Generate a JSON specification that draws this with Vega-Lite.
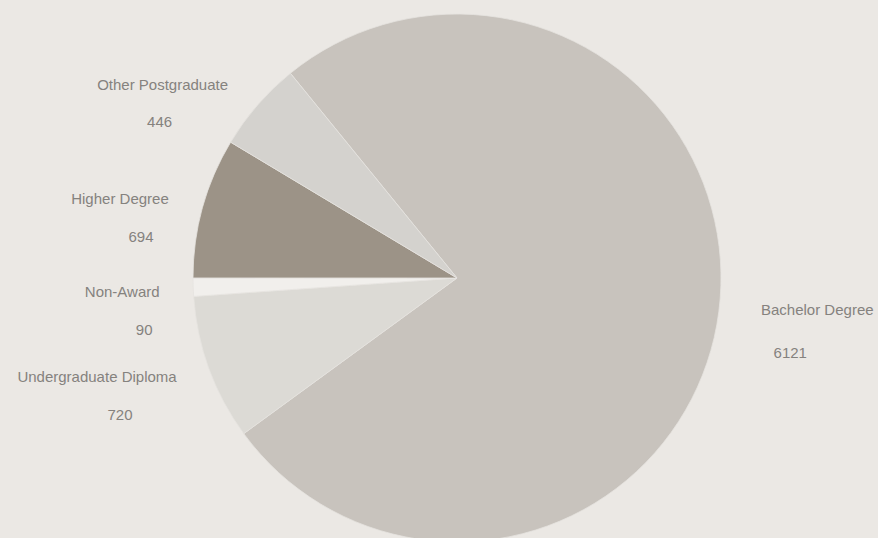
{
  "$schema": "https://vega.github.io/schema/vega-lite/v6.json",
  "autosize": {"type": "none"},
  "width": 842,
  "height": 520,
  "padding": {"left": 36, "top": 18, "right": 0, "bottom": 0},
  "background": "#ebe8e4",
  "config": {"view": {"stroke": null}},
  "data": {
    "values": [
      {"category": "Bachelor Degree", "value": 6121, "order": 1},
      {"category": "Undergraduate Diploma", "value": 720, "order": 2},
      {"category": "Non-Award", "value": 90, "order": 3},
      {"category": "Higher Degree", "value": 694, "order": 4},
      {"category": "Other Postgraduate", "value": 446, "order": 5}
    ]
  },
  "encoding": {
    "theta": {"field": "value", "type": "quantitative", "stack": true, "scale": {"range": [5.6, 11.8832]}},
    "order": {"field": "order", "type": "quantitative"}
  },
  "layer": [
    {
      "mark": {"type": "arc", "radius": 264, "stroke": "#e6e3df", "strokeWidth": 0.8},
      "encoding": {
        "color": {
          "field": "category",
          "type": "nominal",
          "legend": null,
          "scale": {
            "domain": ["Bachelor Degree", "Undergraduate Diploma", "Non-Award", "Higher Degree", "Other Postgraduate"],
            "range": ["#c8c3bd", "#dcdad5", "#f1efec", "#9c9387", "#d4d2ce"]
          }
        }
      }
    },
    {"mark": {"type": "text", "radius": 330, "dx": 33, "dy": -10, "font": "Liberation Sans", "fontSize": 15, "fill": "#85827e"},
     "encoding": {"text": {"condition": {"test": "datum.category === 'Bachelor Degree'", "field": "category"}, "value": ""}}},
    {"mark": {"type": "text", "radius": 330, "dx": 6, "dy": 33, "font": "Liberation Sans", "fontSize": 15, "fill": "#85827e"},
     "encoding": {"text": {"condition": {"test": "datum.category === 'Bachelor Degree'", "field": "value", "type": "quantitative"}, "value": ""}}},
    {"mark": {"type": "text", "radius": 330, "dx": -50, "dy": -14, "font": "Liberation Sans", "fontSize": 15, "fill": "#85827e"},
     "encoding": {"text": {"condition": {"test": "datum.category === 'Undergraduate Diploma'", "field": "category"}, "value": ""}}},
    {"mark": {"type": "text", "radius": 330, "dx": -27, "dy": 24, "font": "Liberation Sans", "fontSize": 15, "fill": "#85827e"},
     "encoding": {"text": {"condition": {"test": "datum.category === 'Undergraduate Diploma'", "field": "value", "type": "quantitative"}, "value": ""}}},
    {"mark": {"type": "text", "radius": 330, "dx": -5, "dy": 2, "font": "Liberation Sans", "fontSize": 15, "fill": "#85827e"},
     "encoding": {"text": {"condition": {"test": "datum.category === 'Non-Award'", "field": "category"}, "value": ""}}},
    {"mark": {"type": "text", "radius": 330, "dx": 17, "dy": 40, "font": "Liberation Sans", "fontSize": 15, "fill": "#85827e"},
     "encoding": {"text": {"condition": {"test": "datum.category === 'Non-Award'", "field": "value", "type": "quantitative"}, "value": ""}}},
    {"mark": {"type": "text", "radius": 330, "dx": -19, "dy": 9, "font": "Liberation Sans", "fontSize": 15, "fill": "#85827e"},
     "encoding": {"text": {"condition": {"test": "datum.category === 'Higher Degree'", "field": "category"}, "value": ""}}},
    {"mark": {"type": "text", "radius": 330, "dx": 2, "dy": 47, "font": "Liberation Sans", "fontSize": 15, "fill": "#85827e"},
     "encoding": {"text": {"condition": {"test": "datum.category === 'Higher Degree'", "field": "value", "type": "quantitative"}, "value": ""}}},
    {"mark": {"type": "text", "radius": 330, "dx": -45, "dy": 23, "font": "Liberation Sans", "fontSize": 15, "fill": "#85827e"},
     "encoding": {"text": {"condition": {"test": "datum.category === 'Other Postgraduate'", "field": "category"}, "value": ""}}},
    {"mark": {"type": "text", "radius": 330, "dx": -48, "dy": 60, "font": "Liberation Sans", "fontSize": 15, "fill": "#85827e"},
     "encoding": {"text": {"condition": {"test": "datum.category === 'Other Postgraduate'", "field": "value", "type": "quantitative"}, "value": ""}}}
  ]
}
